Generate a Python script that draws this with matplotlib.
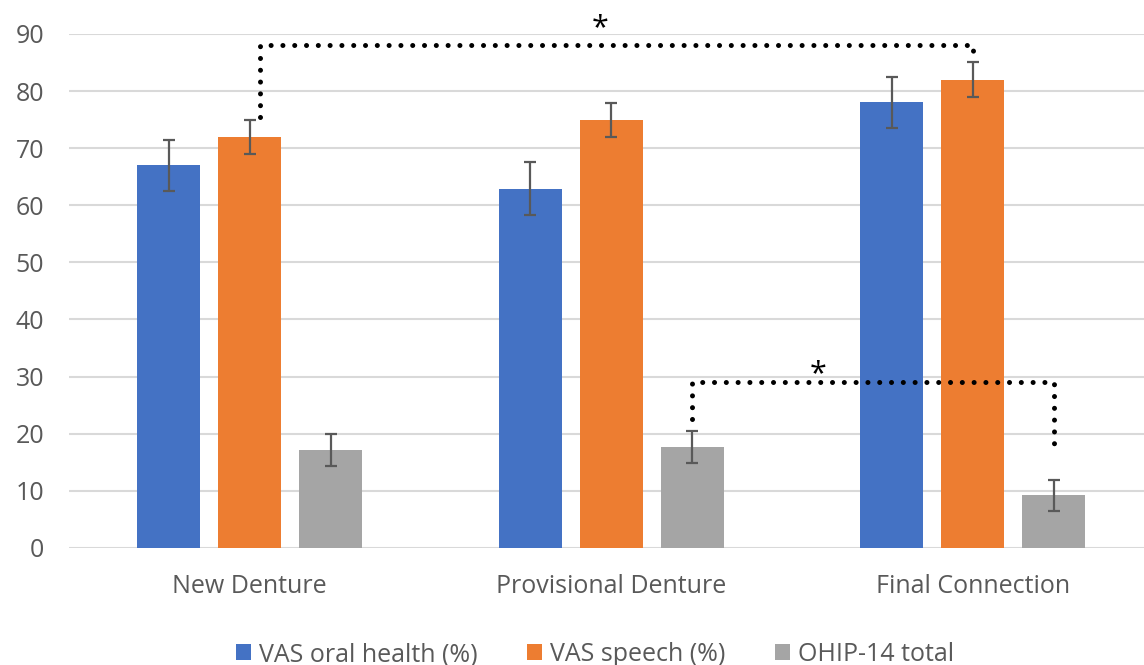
import matplotlib.pyplot as plt
import numpy as np

plt.rcParams['font.family'] = ['Open Sans', 'DejaVu Sans']

categories = ['New Denture', 'Provisional Denture', 'Final Connection']
series = ['VAS oral health (%)', 'VAS speech (%)', 'OHIP-14 total']
values = [
    [67.0, 62.9, 78.0],
    [72.0, 74.9, 82.0],
    [17.1, 17.6, 9.2],
]
errors = [
    [4.5, 4.6, 4.5],
    [3.0, 3.0, 3.0],
    [2.8, 2.8, 2.75],
]
colors = ['#4472C4', '#ED7D31', '#A5A5A5']

# significance brackets: (group, series) start, (group, series) end,
# y of the bracket, left foot, right foot
brackets = [
    ((0, 1), (2, 1), 88.0, 75.5, 86.5),
    ((1, 2), (2, 2), 29.0, 22.5, 16.2),
]
star_pos = [(0.97, 91.0), (1.572, 30.4)]

fig = plt.figure(figsize=(11.44, 6.65), dpi=100)
ax = fig.add_axes([0.0603, 0.176, 0.9397, 0.773])

x = np.arange(len(categories))
w = 0.174
step = 0.224
for i, s in enumerate(series):
    ax.bar(x + (i - 1) * step, values[i], w, color=colors[i], label=s, zorder=2)
    ax.errorbar(x + (i - 1) * step, values[i], yerr=errors[i], fmt='none',
                ecolor='#595959', elinewidth=1.6, capsize=4, capthick=1.6, zorder=3)

for (g0, s0), (g1, s1), ytop, yl, yr in brackets:
    x0 = g0 + (s0 - 1) * step
    x1 = g1 + (s1 - 1) * step
    if s0 == 1:
        x0 += 0.028
    ax.plot([x0, x0, x1, x1], [yl, ytop, ytop, yr], color='black', lw=3.6,
            linestyle=(0, (0.01, 2.35)), dash_capstyle='round', zorder=4, clip_on=False)

for sx, sy in star_pos:
    ax.text(sx, sy, '*', fontsize=22, ha='center', va='center', color='black', clip_on=False)

ax.set_xlim(-0.5, -0.5 + 1075 / 361.5)
ax.set_ylim(0, 90)
ax.set_yticks(np.arange(0, 91, 10))
ax.set_xticks(x)
ax.set_xticklabels(categories)
ax.grid(axis='y', color='#D9D9D9', lw=1.5, zorder=0)
ax.set_axisbelow(True)
for sp in ax.spines.values():
    sp.set_visible(False)
ax.tick_params(axis='both', length=0, labelsize=18, colors='#595959')
ax.tick_params(axis='x', pad=19)
ax.tick_params(axis='y', pad=18)

fig.legend(loc='lower center', bbox_to_anchor=(0.52, -0.037), ncol=3, frameon=False,
           fontsize=18, handlelength=0.6, handleheight=0.6, handletextpad=0.3,
           columnspacing=2.0, labelcolor='#595959')

fig.savefig('out.png', dpi=100)
